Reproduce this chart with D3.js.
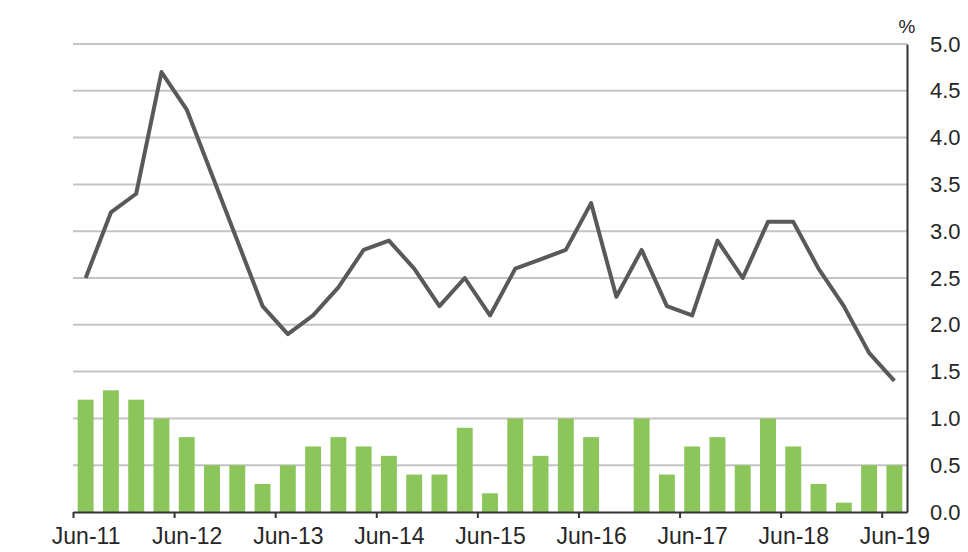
<!DOCTYPE html>
<html>
<head>
<meta charset="utf-8">
<script src="https://cdn.jsdelivr.net/npm/d3@7"></script>
<style>
  body { margin: 0; background: #fff; }
  text { font-family: "Liberation Sans", Arial, sans-serif; fill: #262626; }
</style>
</head>
<body>
<svg id="chart" width="968" height="552"></svg>
<script>
// quarters, Jun-11 .. Jun-19
const quarters = [
  "Jun-11","Sep-11","Dec-11","Mar-12","Jun-12","Sep-12","Dec-12","Mar-13",
  "Jun-13","Sep-13","Dec-13","Mar-14","Jun-14","Sep-14","Dec-14","Mar-15",
  "Jun-15","Sep-15","Dec-15","Mar-16","Jun-16","Sep-16","Dec-16","Mar-17",
  "Jun-17","Sep-17","Dec-17","Mar-18","Jun-18","Sep-18","Dec-18","Mar-19",
  "Jun-19"
];

// green bars
const barValues = [
  1.2, 1.3, 1.2, 1.0, 0.8, 0.5, 0.5, 0.3,
  0.5, 0.7, 0.8, 0.7, 0.6, 0.4, 0.4, 0.9,
  0.2, 1.0, 0.6, 1.0, 0.8, 0.0, 1.0, 0.4,
  0.7, 0.8, 0.5, 1.0, 0.7, 0.3, 0.1, 0.5,
  0.5
];

// grey line
const lineValues = [
  2.5, 3.2, 3.4, 4.7, 4.3, 3.6, 2.9, 2.2,
  1.9, 2.1, 2.4, 2.8, 2.9, 2.6, 2.2, 2.5,
  2.1, 2.6, 2.7, 2.8, 3.3, 2.3, 2.8, 2.2,
  2.1, 2.9, 2.5, 3.1, 3.1, 2.6, 2.2, 1.7,
  1.4
];

const xTickLabels = ["Jun-11","Jun-12","Jun-13","Jun-14","Jun-15","Jun-16","Jun-17","Jun-18","Jun-19"];
const yTicks = [0, 0.5, 1, 1.5, 2, 2.5, 3, 3.5, 4, 4.5, 5];

const svg = d3.select("#chart"),
      margin = {top: 44, right: 61, bottom: 40, left: 73},
      width = +svg.attr("width") - margin.left - margin.right,
      height = +svg.attr("height") - margin.top - margin.bottom;

const g = svg.append("g")
             .attr("transform", `translate(${margin.left},${margin.top})`);

const x = d3.scaleBand()
            .domain(quarters)
            .range([0, width])
            .paddingInner(0.37)
            .paddingOuter(0.185);

// tick marks sit on the quarter boundaries
const xEdge = d3.scaleLinear()
                .domain([0, quarters.length])
                .range([0, width]);

const y = d3.scaleLinear()
            .domain([0, 5])
            .range([height, 0]);

// gridlines
g.append("g")
 .selectAll("line")
 .data(yTicks.filter(d => d > 0))
 .enter().append("line")
   .attr("x1", 0)
   .attr("x2", width)
   .attr("y1", d => y(d))
   .attr("y2", d => y(d))
   .attr("stroke", "#c4c4c4")
   .attr("stroke-width", 2);

// bars
g.selectAll(".bar")
 .data(quarters)
 .enter().append("rect")
   .attr("class", "bar")
   .attr("x", d => x(d))
   .attr("width", x.bandwidth())
   .attr("y", (d, i) => y(barValues[i]))
   .attr("height", (d, i) => height - y(barValues[i]))
   .attr("fill", "#8cc65b");

// line
g.append("path")
 .datum(lineValues)
 .attr("fill", "none")
 .attr("stroke", "#595959")
 .attr("stroke-width", 4)
 .attr("stroke-linejoin", "round")
 .attr("d", d3.line()
     .x((d, i) => x(quarters[i]) + x.bandwidth() / 2)
     .y(d => y(d))
 );

// x axis
const xAxis = g.append("g")
 .attr("transform", `translate(0,${height})`)
 .call(d3.axisBottom(xEdge)
     .tickValues(xTickLabels.map(l => quarters.indexOf(l)))
     .tickFormat(d => quarters[d])
     .tickSize(6)
     .tickSizeOuter(0)
     .tickPadding(10));
xAxis.select(".domain").attr("stroke", "#333").attr("stroke-width", 2);
xAxis.selectAll(".tick line").attr("stroke", "#333").attr("stroke-width", 2);
// labels centred on the quarter, not on the boundary tick
xAxis.selectAll("text")
 .attr("x", xEdge(0.5) - xEdge(0))
 .attr("fill", "#262626")
 .style("font-size", "23px")
 .style("font-family", "'Liberation Sans', Arial, sans-serif");

// y axis on the right
const yAxis = g.append("g")
 .attr("transform", `translate(${width},0)`)
 .call(d3.axisRight(y)
     .tickValues(yTicks)
     .tickFormat(d3.format(".1f"))
     .tickSize(0)
     .tickPadding(23));
yAxis.select(".domain").attr("stroke", "#333").attr("stroke-width", 2);
yAxis.selectAll("text")
 .attr("fill", "#262626")
 .style("font-size", "22px")
 .style("font-family", "'Liberation Sans', Arial, sans-serif");

svg.append("text")
   .attr("x", margin.left + width)
   .attr("y", 33)
   .attr("text-anchor", "middle")
   .style("font-size", "19px")
   .text("%");
</script>
</body>
</html>
